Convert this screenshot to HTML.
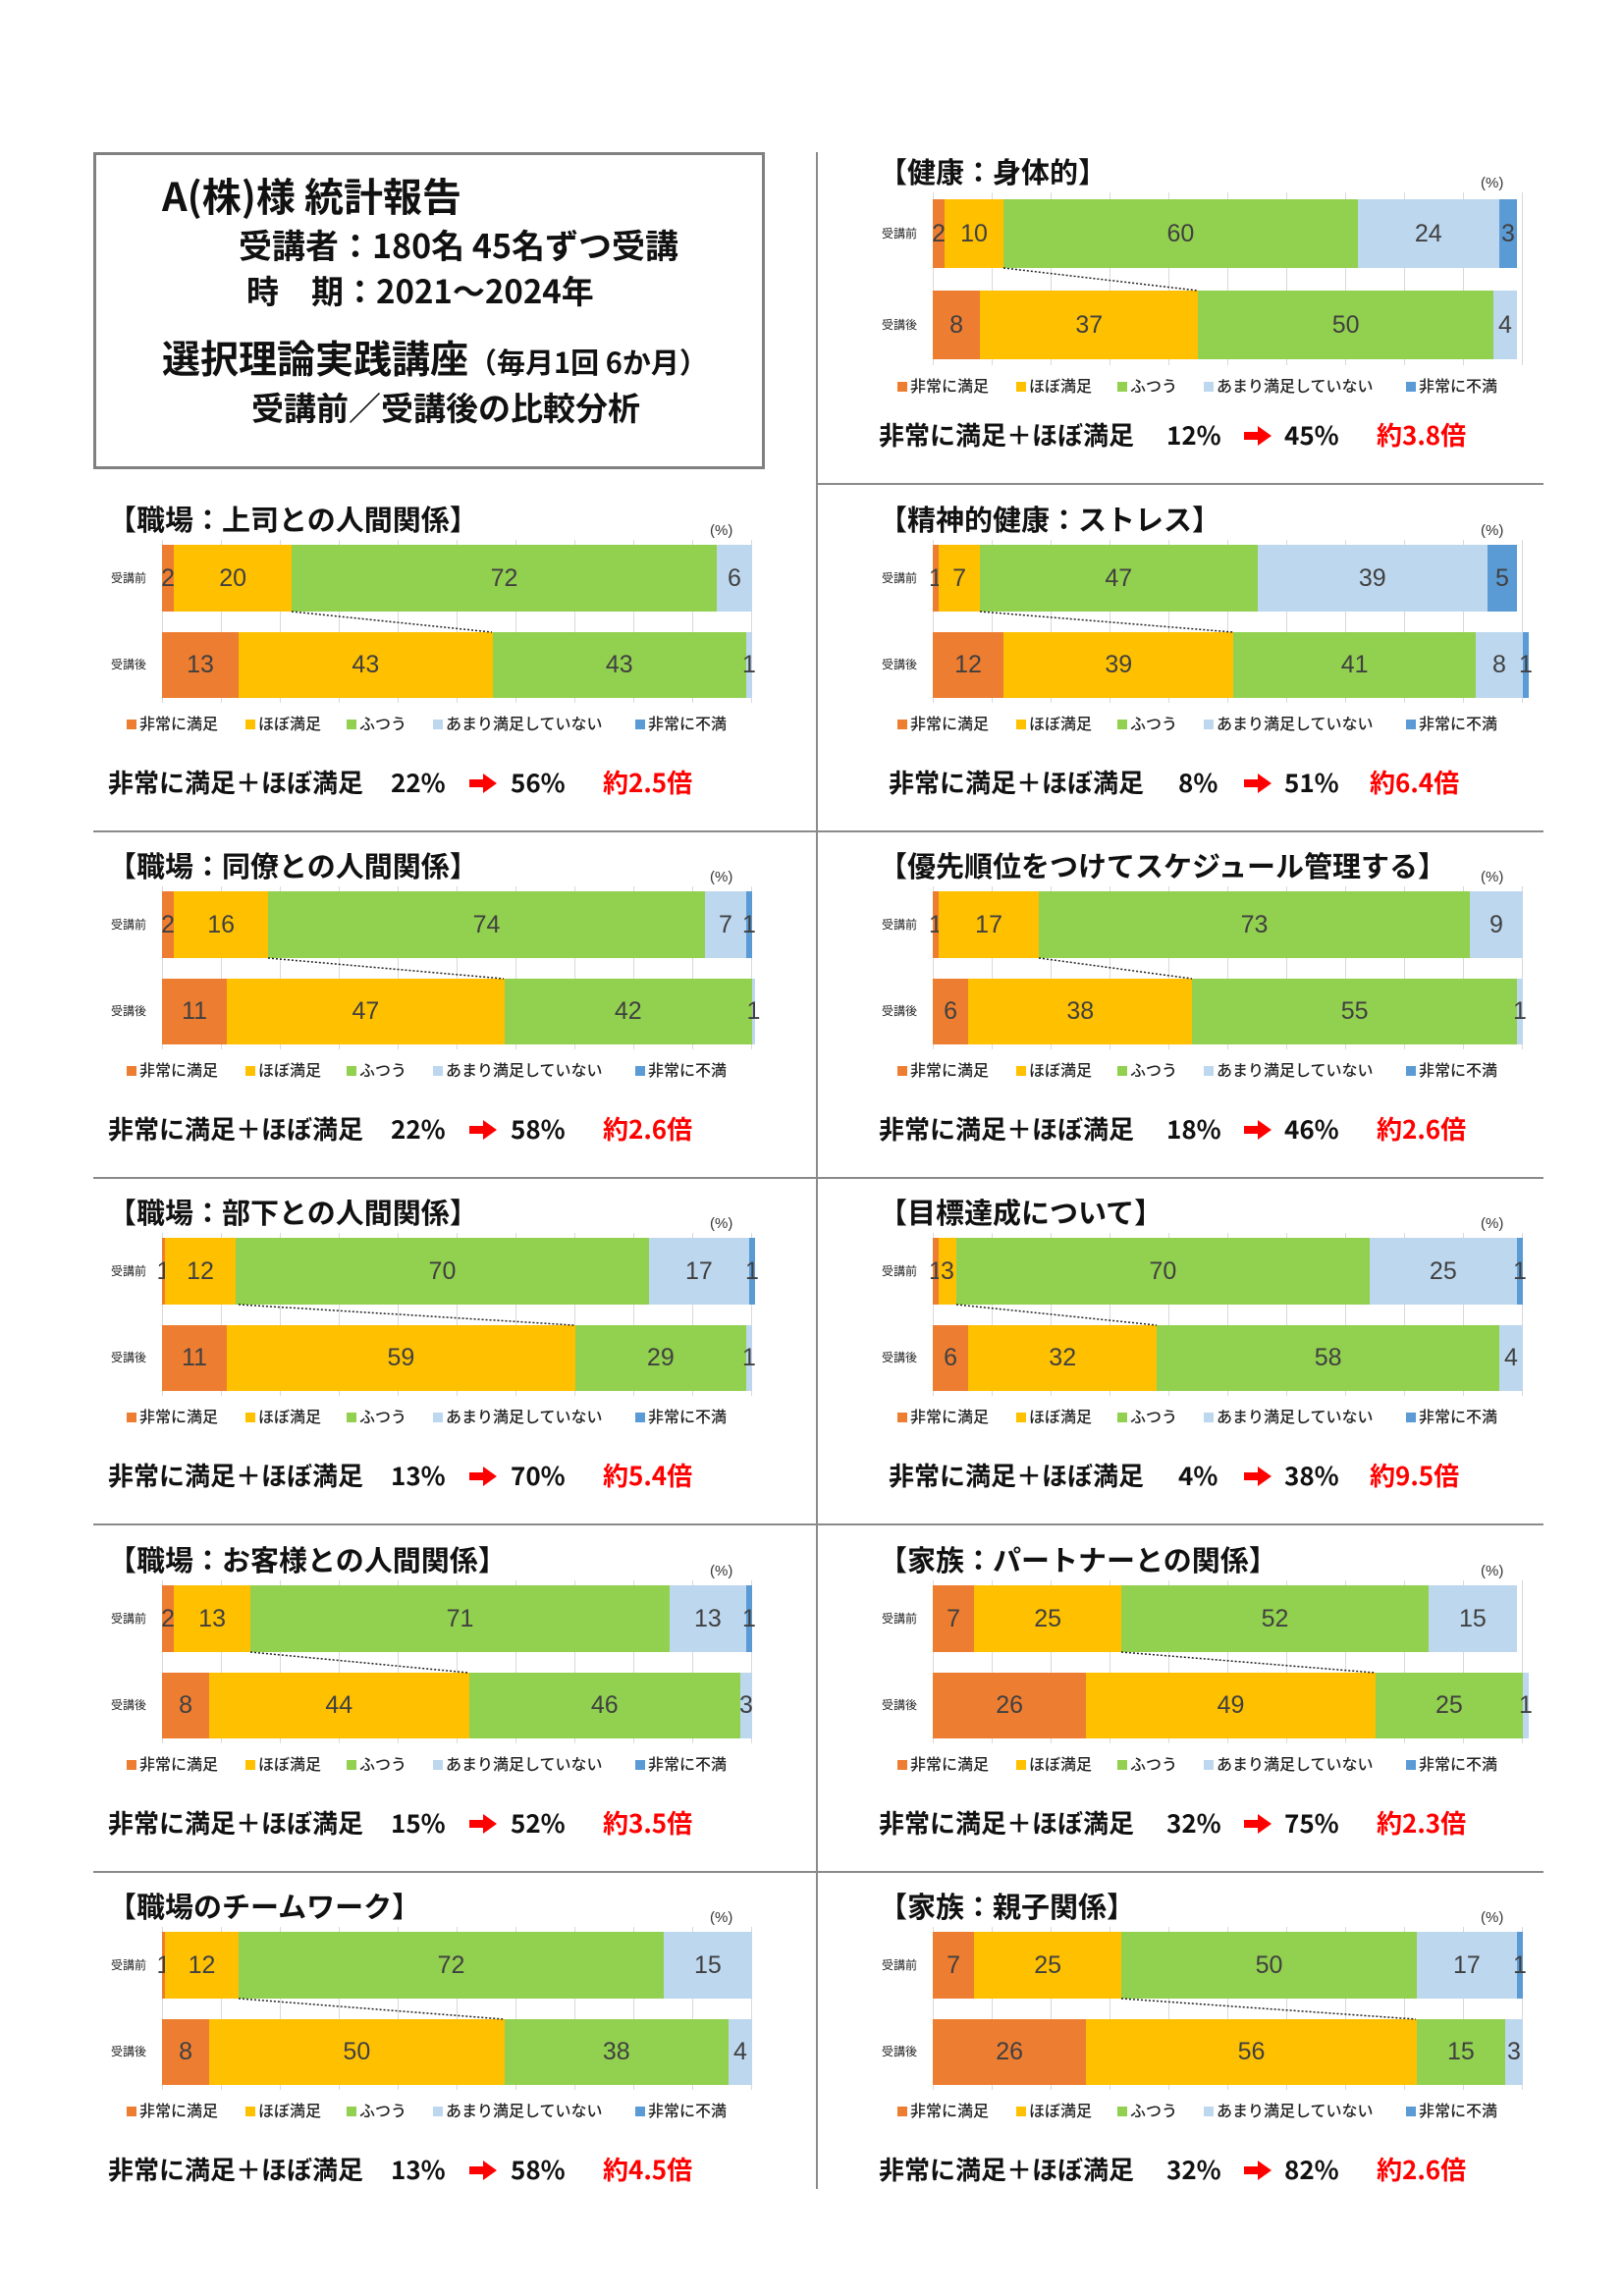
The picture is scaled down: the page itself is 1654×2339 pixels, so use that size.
<!DOCTYPE html>
<html><head><meta charset="utf-8"><style>
body{margin:0;width:1654px;height:2339px;background:#fff;position:relative;overflow:hidden;font-family:"Liberation Sans","Noto Sans CJK JP",sans-serif;}
.ln{position:absolute;background:#8a8a8a}
.box{position:absolute;left:95px;top:155px;width:678px;height:317px;border:3px solid #808080}
.hx{position:absolute;white-space:nowrap;font-family:"Noto Sans CJK JP",sans-serif;font-weight:700;color:#111}
.p{position:absolute;width:601px;height:320px}
.t{position:absolute;left:-55px;top:-2px;line-height:40px;font-size:29px;font-weight:700;font-family:"Noto Sans CJK JP",sans-serif;white-space:nowrap;color:#111}
.pc{position:absolute;left:558px;top:22px;font-size:15px;color:#333}
.g{position:absolute;left:0;top:40px;width:602px;height:166px;background:repeating-linear-gradient(to right,#d9d9d9 0 1px,transparent 1px 60px)}
.lb{position:absolute;left:-60px;width:52px;font-size:12px;font-family:"Noto Sans CJK JP",sans-serif;color:#222;text-align:center}
.bar{position:absolute;left:0;width:601px;height:68px;display:flex}
.b1{top:45px}.b2{top:134px;height:67px}
.bar i{font-style:normal;display:flex;align-items:center;justify-content:center;font-size:25px;color:#404040;white-space:nowrap;overflow:visible;flex:none}
.a{background:#ED7D31}.b{background:#FFC000}.c{background:#92D050}.d{background:#BDD7EE}.e{background:#5B9BD5}
.dl{position:absolute;left:0;top:0;overflow:visible}
.lg{position:absolute;left:0;top:215px;height:22px;width:601px}
.lg span{position:absolute;top:0;font-size:16px;line-height:22px;white-space:nowrap;font-family:"Noto Sans CJK JP",sans-serif;color:#222;font-weight:500}
.lg span b{display:inline-block;width:10px;height:10px;margin-right:3px;vertical-align:0px}
.s{position:absolute;left:0;top:269px;height:36px;width:601px}
.s span{position:absolute;top:0;line-height:36px;font-size:26px;font-weight:700;white-space:nowrap;font-family:"Noto Sans CJK JP",sans-serif;color:#111}
.s .r{color:#f00}
.s svg{position:absolute;left:317px;top:9px}
</style></head><body>
<div class="ln" style="left:831px;top:155px;width:2px;height:2075px"></div>
<div class="ln" style="left:832px;top:492px;width:740px;height:2px"></div>
<div class="ln" style="left:95px;top:846px;width:1477px;height:2px"></div>
<div class="ln" style="left:95px;top:1199px;width:1477px;height:2px"></div>
<div class="ln" style="left:95px;top:1552px;width:1477px;height:2px"></div>
<div class="ln" style="left:95px;top:1906px;width:1477px;height:2px"></div>

<div class="box"></div>
<div class="hx" style="left:165px;top:173px;font-size:40px;line-height:50px">A(株)様 統計報告</div>
<div class="hx" style="left:243px;top:228px;font-size:34px;line-height:42px">受講者：180名 45名ずつ受講</div>
<div class="hx" style="left:251px;top:274px;font-size:33px;line-height:42px">時　期：2021～2024年</div>
<div class="hx" style="left:165px;top:340px;font-size:39px;line-height:48px">選択理論実践講座<span style="font-size:29px">（毎月1回 6か月）</span></div>
<div class="hx" style="left:256px;top:393px;font-size:33px;line-height:42px">受講前／受講後の比較分析</div>

<!-- Right 1 -->
<div class="p" style="left:950px;top:156px">
<div class="t">【健康：身体的】</div><div class="pc">(%)</div><div class="g" style="height:176px"></div>
<div class="lb" style="top:73px">受講前</div><div class="lb" style="top:166px">受講後</div>
<div class="bar" style="top:47px;height:70px"><i class="a" style="width:2%">2</i><i class="b" style="width:10%">10</i><i class="c" style="width:60%">60</i><i class="d" style="width:24%">24</i><i class="e" style="width:3%">3</i></div>
<div class="bar" style="top:140px;height:70px"><i class="a" style="width:8%">8</i><i class="b" style="width:37%">37</i><i class="c" style="width:50%">50</i><i class="d" style="width:4%">4</i></div>
<svg class="dl" width="601" height="320"><line x1="72" y1="117" x2="270" y2="140" stroke="#222" stroke-width="1.5" stroke-dasharray="2,2"/></svg>
<div class="lg" style="top:225px"><span style="left:-36px"><b class="a"></b>非常に満足</span><span style="left:85px"><b class="b"></b>ほぼ満足</span><span style="left:188px"><b class="c"></b>ふつう</span><span style="left:276px"><b class="d"></b>あまり満足していない</span><span style="left:482px"><b class="e"></b>非常に不満</span></div>
<div class="s"><span style="left:-55px">非常に満足＋ほぼ満足</span><span style="left:238px">12%</span><svg width="28" height="20"><path d="M0 6h14V0l14 10-14 10v-6H0z" fill="#f00"/></svg><span style="left:358px">45%</span><span class="r" style="left:452px">約3.8倍</span></div>
</div>

<!-- Right 2 -->
<div class="p" style="left:950px;top:510px">
<div class="t">【精神的健康：ストレス】</div><div class="pc">(%)</div><div class="g"></div>
<div class="lb" style="top:70px">受講前</div><div class="lb" style="top:158px">受講後</div>
<div class="bar b1"><i class="a" style="width:1%">1</i><i class="b" style="width:7%">7</i><i class="c" style="width:47%">47</i><i class="d" style="width:39%">39</i><i class="e" style="width:5%">5</i></div>
<div class="bar b2"><i class="a" style="width:12%">12</i><i class="b" style="width:39%">39</i><i class="c" style="width:41%">41</i><i class="d" style="width:8%">8</i><i class="e" style="width:1%">1</i></div>
<svg class="dl" width="601" height="320"><line x1="48" y1="113" x2="306" y2="134" stroke="#222" stroke-width="1.5" stroke-dasharray="2,2"/></svg>
<div class="lg"><span style="left:-36px"><b class="a"></b>非常に満足</span><span style="left:85px"><b class="b"></b>ほぼ満足</span><span style="left:188px"><b class="c"></b>ふつう</span><span style="left:276px"><b class="d"></b>あまり満足していない</span><span style="left:482px"><b class="e"></b>非常に不満</span></div>
<div class="s"><span style="left:-45px">非常に満足＋ほぼ満足</span><span style="left:250px">8%</span><svg width="28" height="20"><path d="M0 6h14V0l14 10-14 10v-6H0z" fill="#f00"/></svg><span style="left:358px">51%</span><span class="r" style="left:445px">約6.4倍</span></div>
</div>

<!-- Right 3 -->
<div class="p" style="left:950px;top:863px">
<div class="t">【優先順位をつけてスケジュール管理する】</div><div class="pc">(%)</div><div class="g"></div>
<div class="lb" style="top:70px">受講前</div><div class="lb" style="top:158px">受講後</div>
<div class="bar b1"><i class="a" style="width:1%">1</i><i class="b" style="width:17%">17</i><i class="c" style="width:73%">73</i><i class="d" style="width:9%">9</i></div>
<div class="bar b2"><i class="a" style="width:6%">6</i><i class="b" style="width:38%">38</i><i class="c" style="width:55%">55</i><i class="d" style="width:1%">1</i></div>
<svg class="dl" width="601" height="320"><line x1="108" y1="113" x2="264" y2="134" stroke="#222" stroke-width="1.5" stroke-dasharray="2,2"/></svg>
<div class="lg"><span style="left:-36px"><b class="a"></b>非常に満足</span><span style="left:85px"><b class="b"></b>ほぼ満足</span><span style="left:188px"><b class="c"></b>ふつう</span><span style="left:276px"><b class="d"></b>あまり満足していない</span><span style="left:482px"><b class="e"></b>非常に不満</span></div>
<div class="s"><span style="left:-55px">非常に満足＋ほぼ満足</span><span style="left:238px">18%</span><svg width="28" height="20"><path d="M0 6h14V0l14 10-14 10v-6H0z" fill="#f00"/></svg><span style="left:358px">46%</span><span class="r" style="left:452px">約2.6倍</span></div>
</div>

<!-- Right 4 -->
<div class="p" style="left:950px;top:1216px">
<div class="t">【目標達成について】</div><div class="pc">(%)</div><div class="g"></div>
<div class="lb" style="top:70px">受講前</div><div class="lb" style="top:158px">受講後</div>
<div class="bar b1"><i class="a" style="width:1%">1</i><i class="b" style="width:3%">3</i><i class="c" style="width:70%">70</i><i class="d" style="width:25%">25</i><i class="e" style="width:1%">1</i></div>
<div class="bar b2"><i class="a" style="width:6%">6</i><i class="b" style="width:32%">32</i><i class="c" style="width:58%">58</i><i class="d" style="width:4%">4</i></div>
<svg class="dl" width="601" height="320"><line x1="24" y1="113" x2="228" y2="134" stroke="#222" stroke-width="1.5" stroke-dasharray="2,2"/></svg>
<div class="lg"><span style="left:-36px"><b class="a"></b>非常に満足</span><span style="left:85px"><b class="b"></b>ほぼ満足</span><span style="left:188px"><b class="c"></b>ふつう</span><span style="left:276px"><b class="d"></b>あまり満足していない</span><span style="left:482px"><b class="e"></b>非常に不満</span></div>
<div class="s"><span style="left:-45px">非常に満足＋ほぼ満足</span><span style="left:250px">4%</span><svg width="28" height="20"><path d="M0 6h14V0l14 10-14 10v-6H0z" fill="#f00"/></svg><span style="left:358px">38%</span><span class="r" style="left:445px">約9.5倍</span></div>
</div>

<!-- Right 5 -->
<div class="p" style="left:950px;top:1570px">
<div class="t">【家族：パートナーとの関係】</div><div class="pc">(%)</div><div class="g"></div>
<div class="lb" style="top:70px">受講前</div><div class="lb" style="top:158px">受講後</div>
<div class="bar b1"><i class="a" style="width:7%">7</i><i class="b" style="width:25%">25</i><i class="c" style="width:52%">52</i><i class="d" style="width:15%">15</i></div>
<div class="bar b2"><i class="a" style="width:26%">26</i><i class="b" style="width:49%">49</i><i class="c" style="width:25%">25</i><i class="d" style="width:1%">1</i></div>
<svg class="dl" width="601" height="320"><line x1="192" y1="113" x2="450" y2="134" stroke="#222" stroke-width="1.5" stroke-dasharray="2,2"/></svg>
<div class="lg"><span style="left:-36px"><b class="a"></b>非常に満足</span><span style="left:85px"><b class="b"></b>ほぼ満足</span><span style="left:188px"><b class="c"></b>ふつう</span><span style="left:276px"><b class="d"></b>あまり満足していない</span><span style="left:482px"><b class="e"></b>非常に不満</span></div>
<div class="s"><span style="left:-55px">非常に満足＋ほぼ満足</span><span style="left:238px">32%</span><svg width="28" height="20"><path d="M0 6h14V0l14 10-14 10v-6H0z" fill="#f00"/></svg><span style="left:358px">75%</span><span class="r" style="left:452px">約2.3倍</span></div>
</div>

<!-- Right 6 -->
<div class="p" style="left:950px;top:1923px">
<div class="t">【家族：親子関係】</div><div class="pc">(%)</div><div class="g"></div>
<div class="lb" style="top:70px">受講前</div><div class="lb" style="top:158px">受講後</div>
<div class="bar b1"><i class="a" style="width:7%">7</i><i class="b" style="width:25%">25</i><i class="c" style="width:50%">50</i><i class="d" style="width:17%">17</i><i class="e" style="width:1%">1</i></div>
<div class="bar b2"><i class="a" style="width:26%">26</i><i class="b" style="width:56%">56</i><i class="c" style="width:15%">15</i><i class="d" style="width:3%">3</i></div>
<svg class="dl" width="601" height="320"><line x1="192" y1="113" x2="492" y2="134" stroke="#222" stroke-width="1.5" stroke-dasharray="2,2"/></svg>
<div class="lg"><span style="left:-36px"><b class="a"></b>非常に満足</span><span style="left:85px"><b class="b"></b>ほぼ満足</span><span style="left:188px"><b class="c"></b>ふつう</span><span style="left:276px"><b class="d"></b>あまり満足していない</span><span style="left:482px"><b class="e"></b>非常に不満</span></div>
<div class="s"><span style="left:-55px">非常に満足＋ほぼ満足</span><span style="left:238px">32%</span><svg width="28" height="20"><path d="M0 6h14V0l14 10-14 10v-6H0z" fill="#f00"/></svg><span style="left:358px">82%</span><span class="r" style="left:452px">約2.6倍</span></div>
</div>

<!-- Left 1 -->
<div class="p" style="left:165px;top:510px">
<div class="t">【職場：上司との人間関係】</div><div class="pc">(%)</div><div class="g"></div>
<div class="lb" style="top:70px">受講前</div><div class="lb" style="top:158px">受講後</div>
<div class="bar b1"><i class="a" style="width:2%">2</i><i class="b" style="width:20%">20</i><i class="c" style="width:72%">72</i><i class="d" style="width:6%">6</i></div>
<div class="bar b2"><i class="a" style="width:13%">13</i><i class="b" style="width:43%">43</i><i class="c" style="width:43%">43</i><i class="d" style="width:1%">1</i></div>
<svg class="dl" width="601" height="320"><line x1="132" y1="113" x2="336" y2="134" stroke="#222" stroke-width="1.5" stroke-dasharray="2,2"/></svg>
<div class="lg"><span style="left:-36px"><b class="a"></b>非常に満足</span><span style="left:85px"><b class="b"></b>ほぼ満足</span><span style="left:188px"><b class="c"></b>ふつう</span><span style="left:276px"><b class="d"></b>あまり満足していない</span><span style="left:482px"><b class="e"></b>非常に不満</span></div>
<div class="s"><span style="left:-55px">非常に満足＋ほぼ満足</span><span style="left:233px">22%</span><svg width="28" height="20" style="left:313px"><path d="M0 6h14V0l14 10-14 10v-6H0z" fill="#f00"/></svg><span style="left:355px">56%</span><span class="r" style="left:449px">約2.5倍</span></div>
</div>

<!-- Left 2 -->
<div class="p" style="left:165px;top:863px">
<div class="t">【職場：同僚との人間関係】</div><div class="pc">(%)</div><div class="g"></div>
<div class="lb" style="top:70px">受講前</div><div class="lb" style="top:158px">受講後</div>
<div class="bar b1"><i class="a" style="width:2%">2</i><i class="b" style="width:16%">16</i><i class="c" style="width:74%">74</i><i class="d" style="width:7%">7</i><i class="e" style="width:1%">1</i></div>
<div class="bar b2"><i class="a" style="width:11%">11</i><i class="b" style="width:47%">47</i><i class="c" style="width:42%">42</i><i class="d" style="width:0.5%">1</i></div>
<svg class="dl" width="601" height="320"><line x1="108" y1="113" x2="348" y2="134" stroke="#222" stroke-width="1.5" stroke-dasharray="2,2"/></svg>
<div class="lg"><span style="left:-36px"><b class="a"></b>非常に満足</span><span style="left:85px"><b class="b"></b>ほぼ満足</span><span style="left:188px"><b class="c"></b>ふつう</span><span style="left:276px"><b class="d"></b>あまり満足していない</span><span style="left:482px"><b class="e"></b>非常に不満</span></div>
<div class="s"><span style="left:-55px">非常に満足＋ほぼ満足</span><span style="left:233px">22%</span><svg width="28" height="20" style="left:313px"><path d="M0 6h14V0l14 10-14 10v-6H0z" fill="#f00"/></svg><span style="left:355px">58%</span><span class="r" style="left:449px">約2.6倍</span></div>
</div>

<!-- Left 3 -->
<div class="p" style="left:165px;top:1216px">
<div class="t">【職場：部下との人間関係】</div><div class="pc">(%)</div><div class="g"></div>
<div class="lb" style="top:70px">受講前</div><div class="lb" style="top:158px">受講後</div>
<div class="bar b1"><i class="a" style="width:0.5%">1</i><i class="b" style="width:12%">12</i><i class="c" style="width:70%">70</i><i class="d" style="width:17%">17</i><i class="e" style="width:1%">1</i></div>
<div class="bar b2"><i class="a" style="width:11%">11</i><i class="b" style="width:59%">59</i><i class="c" style="width:29%">29</i><i class="d" style="width:1%">1</i></div>
<svg class="dl" width="601" height="320"><line x1="78" y1="113" x2="420" y2="134" stroke="#222" stroke-width="1.5" stroke-dasharray="2,2"/></svg>
<div class="lg"><span style="left:-36px"><b class="a"></b>非常に満足</span><span style="left:85px"><b class="b"></b>ほぼ満足</span><span style="left:188px"><b class="c"></b>ふつう</span><span style="left:276px"><b class="d"></b>あまり満足していない</span><span style="left:482px"><b class="e"></b>非常に不満</span></div>
<div class="s"><span style="left:-55px">非常に満足＋ほぼ満足</span><span style="left:233px">13%</span><svg width="28" height="20" style="left:313px"><path d="M0 6h14V0l14 10-14 10v-6H0z" fill="#f00"/></svg><span style="left:355px">70%</span><span class="r" style="left:449px">約5.4倍</span></div>
</div>

<!-- Left 4 -->
<div class="p" style="left:165px;top:1570px">
<div class="t">【職場：お客様との人間関係】</div><div class="pc">(%)</div><div class="g"></div>
<div class="lb" style="top:70px">受講前</div><div class="lb" style="top:158px">受講後</div>
<div class="bar b1"><i class="a" style="width:2%">2</i><i class="b" style="width:13%">13</i><i class="c" style="width:71%">71</i><i class="d" style="width:13%">13</i><i class="e" style="width:1%">1</i></div>
<div class="bar b2"><i class="a" style="width:8%">8</i><i class="b" style="width:44%">44</i><i class="c" style="width:46%">46</i><i class="d" style="width:2%">3</i></div>
<svg class="dl" width="601" height="320"><line x1="90" y1="113" x2="312" y2="134" stroke="#222" stroke-width="1.5" stroke-dasharray="2,2"/></svg>
<div class="lg"><span style="left:-36px"><b class="a"></b>非常に満足</span><span style="left:85px"><b class="b"></b>ほぼ満足</span><span style="left:188px"><b class="c"></b>ふつう</span><span style="left:276px"><b class="d"></b>あまり満足していない</span><span style="left:482px"><b class="e"></b>非常に不満</span></div>
<div class="s"><span style="left:-55px">非常に満足＋ほぼ満足</span><span style="left:233px">15%</span><svg width="28" height="20" style="left:313px"><path d="M0 6h14V0l14 10-14 10v-6H0z" fill="#f00"/></svg><span style="left:355px">52%</span><span class="r" style="left:449px">約3.5倍</span></div>
</div>

<!-- Left 5 -->
<div class="p" style="left:165px;top:1923px">
<div class="t">【職場のチームワーク】</div><div class="pc">(%)</div><div class="g"></div>
<div class="lb" style="top:70px">受講前</div><div class="lb" style="top:158px">受講後</div>
<div class="bar b1"><i class="a" style="width:0.5%">1</i><i class="b" style="width:12.5%">12</i><i class="c" style="width:72%">72</i><i class="d" style="width:15%">15</i></div>
<div class="bar b2"><i class="a" style="width:8%">8</i><i class="b" style="width:50%">50</i><i class="c" style="width:38%">38</i><i class="d" style="width:4%">4</i></div>
<svg class="dl" width="601" height="320"><line x1="78" y1="113" x2="348" y2="134" stroke="#222" stroke-width="1.5" stroke-dasharray="2,2"/></svg>
<div class="lg"><span style="left:-36px"><b class="a"></b>非常に満足</span><span style="left:85px"><b class="b"></b>ほぼ満足</span><span style="left:188px"><b class="c"></b>ふつう</span><span style="left:276px"><b class="d"></b>あまり満足していない</span><span style="left:482px"><b class="e"></b>非常に不満</span></div>
<div class="s"><span style="left:-55px">非常に満足＋ほぼ満足</span><span style="left:233px">13%</span><svg width="28" height="20" style="left:313px"><path d="M0 6h14V0l14 10-14 10v-6H0z" fill="#f00"/></svg><span style="left:355px">58%</span><span class="r" style="left:449px">約4.5倍</span></div>
</div>
</body></html>
